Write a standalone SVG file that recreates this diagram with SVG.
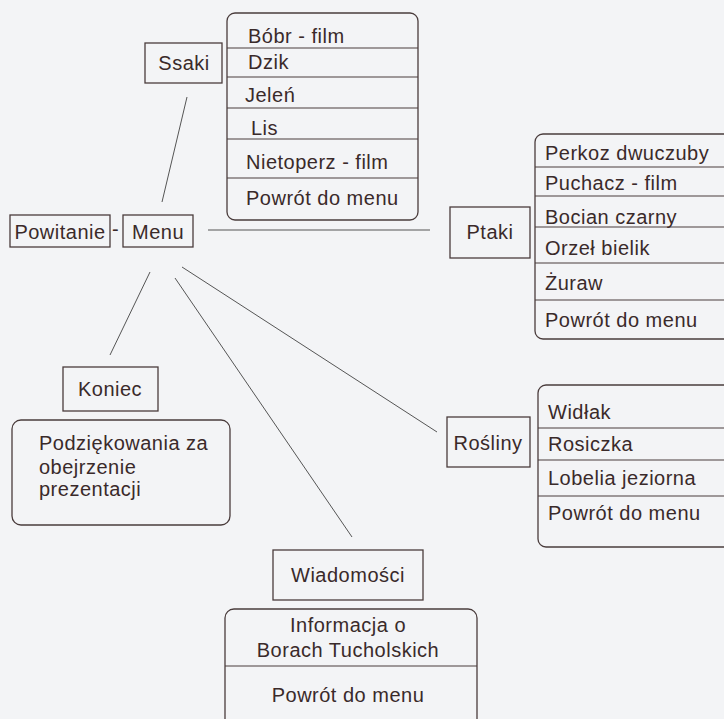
<svg xmlns="http://www.w3.org/2000/svg" width="724" height="719" viewBox="0 0 724 719">
<style>
.bx{fill:none;stroke:#4a3c3c;stroke-width:1.3}
.dv{stroke:#4a3c3c;stroke-width:1.1}
.t{font-family:"Liberation Sans",Arial,sans-serif;font-size:20px;letter-spacing:0.5px;fill:#3a2a2a}
.c{text-anchor:middle}
.ln{stroke:#555;stroke-width:1;fill:none}
</style>
<rect width="724" height="719" fill="#f3f4f6"/>
<g id="connectors">
<line class="ln" x1="187" y1="97" x2="162" y2="202"/>
<line class="ln" x1="208" y1="230" x2="430" y2="230"/>
<line class="ln" x1="150" y1="272" x2="110" y2="355"/>
<line class="ln" x1="175" y1="278" x2="352" y2="537"/>
<line class="ln" x1="182" y1="267" x2="437" y2="432"/>
<text class="t" x="112" y="236" font-size="18">-</text>
</g>
<g id="powitanie">
<rect class="bx" x="10" y="215" width="100" height="32"/>
<text class="t c" x="60" y="239">Powitanie</text>
</g>
<g id="menu">
<rect class="bx" x="123" y="215" width="70" height="32"/>
<text class="t c" x="158" y="239">Menu</text>
</g>
<g id="ssaki">
<rect class="bx" x="145" y="43" width="77" height="40"/>
<text class="t c" x="184" y="70">Ssaki</text>
</g>
<g id="ssaki-list">
<rect class="bx" x="227" y="13" width="191" height="207" rx="8"/>
<line class="dv" x1="227" y1="48" x2="418" y2="48"/>
<line class="dv" x1="227" y1="77" x2="418" y2="77"/>
<line class="dv" x1="227" y1="108" x2="418" y2="108"/>
<line class="dv" x1="227" y1="139" x2="418" y2="139"/>
<line class="dv" x1="227" y1="178" x2="418" y2="178"/>
<text class="t" x="248" y="43">Bóbr - film</text>
<text class="t" x="248" y="69">Dzik</text>
<text class="t" x="245" y="102">Jeleń</text>
<text class="t" x="251" y="135">Lis</text>
<text class="t" x="246" y="169">Nietoperz - film</text>
<text class="t" x="246" y="205">Powrót do menu</text>
</g>
<g id="ptaki">
<rect class="bx" x="450" y="207" width="80" height="51"/>
<text class="t c" x="490" y="239">Ptaki</text>
</g>
<g id="ptaki-list">
<rect class="bx" x="535" y="134" width="210" height="205" rx="8"/>
<line class="dv" x1="535" y1="167" x2="724" y2="167"/>
<line class="dv" x1="535" y1="196" x2="724" y2="196"/>
<line class="dv" x1="535" y1="227" x2="724" y2="227"/>
<line class="dv" x1="535" y1="263" x2="724" y2="263"/>
<line class="dv" x1="535" y1="300" x2="724" y2="300"/>
<text class="t" x="545" y="160">Perkoz dwuczuby</text>
<text class="t" x="545" y="190">Puchacz - film</text>
<text class="t" x="545" y="224">Bocian czarny</text>
<text class="t" x="545" y="255">Orzeł bielik</text>
<text class="t" x="545" y="290">Żuraw</text>
<text class="t" x="545" y="327">Powrót do menu</text>
</g>
<g id="koniec">
<rect class="bx" x="63" y="367" width="95" height="44"/>
<text class="t c" x="110" y="396">Koniec</text>
</g>
<g id="podziekowania">
<rect class="bx" x="12" y="420" width="218" height="105" rx="9"/>
<text class="t" x="39" y="450">Podziękowania za</text>
<text class="t" x="39" y="474">obejrzenie</text>
<text class="t" x="39" y="496">prezentacji</text>
</g>
<g id="rosliny">
<rect class="bx" x="447" y="417" width="83" height="50"/>
<text class="t c" x="488" y="450">Rośliny</text>
</g>
<g id="rosliny-list">
<rect class="bx" x="538" y="385" width="210" height="162" rx="8"/>
<line class="dv" x1="538" y1="428" x2="724" y2="428"/>
<line class="dv" x1="538" y1="460" x2="724" y2="460"/>
<line class="dv" x1="538" y1="496" x2="724" y2="496"/>
<text class="t" x="548" y="419">Widłak</text>
<text class="t" x="548" y="451">Rosiczka</text>
<text class="t" x="548" y="485">Lobelia jeziorna</text>
<text class="t" x="548" y="520">Powrót do menu</text>
</g>
<g id="wiadomosci">
<rect class="bx" x="273" y="550" width="150" height="50"/>
<text class="t c" x="348" y="582">Wiadomości</text>
</g>
<g id="informacja">
<rect class="bx" x="225" y="609" width="252" height="130" rx="9"/>
<line class="dv" x1="225" y1="666" x2="477" y2="666"/>
<text class="t c" x="348" y="632">Informacja o</text>
<text class="t c" x="348" y="657">Borach Tucholskich</text>
<text class="t c" x="348" y="702">Powrót do menu</text>
</g>
</svg>
